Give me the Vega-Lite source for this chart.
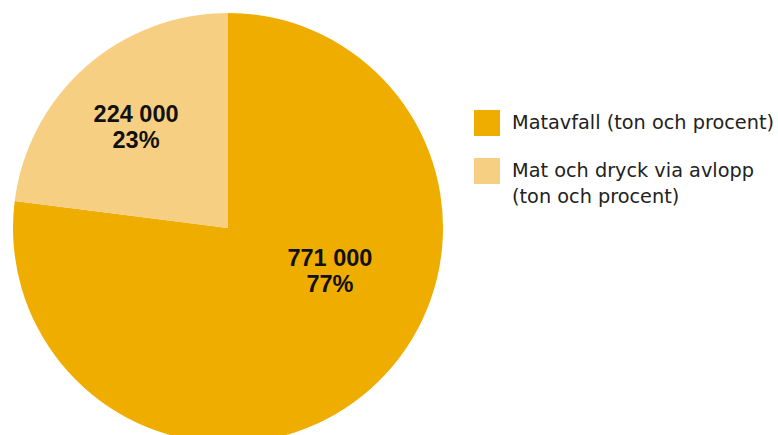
{
  "$schema": "https://vega.github.io/schema/vega-lite/v6.json",
  "width": 456,
  "height": 456,
  "autosize": {"type": "none"},
  "padding": {"left": 0, "top": 0, "right": 322, "bottom": -21},
  "background": "white",
  "config": {"view": {"stroke": null}, "style": {"guide-label": {"lineHeight": 26}}},
  "data": {
    "values": [
      {"category": "Matavfall (ton och procent)", "pct": 77, "label": "771 000\n77%"},
      {"category": "Mat och dryck via avlopp (ton och procent)", "pct": 23, "label": "224 000\n23%"}
    ]
  },
  "encoding": {
    "theta": {"field": "pct", "type": "quantitative", "stack": true},
    "order": {"field": "pct", "type": "quantitative", "sort": "descending"}
  },
  "layer": [
    {
      "mark": {"type": "arc", "outerRadius": 215, "stroke": null},
      "encoding": {
        "color": {
          "field": "category",
          "type": "nominal",
          "sort": ["Matavfall (ton och procent)", "Mat och dryck via avlopp (ton och procent)"],
          "scale": {
            "domain": ["Matavfall (ton och procent)", "Mat och dryck via avlopp (ton och procent)"],
            "range": ["#EFAD00", "#F6CF82"]
          },
          "legend": {
            "title": null,
            "orient": "none",
            "legendX": 474,
            "legendY": 110,
            "symbolType": "square",
            "symbolSize": 676,
            "symbolStrokeWidth": 0,
            "symbolOpacity": 1,
            "labelFont": "DejaVu Sans",
            "labelFontSize": 19.3,
            "labelColor": "#222222",
            "labelLimit": 400,
            "labelOffset": 12,
            "rowPadding": 22,
            "labelExpr": "datum.label == 'Mat och dryck via avlopp (ton och procent)' ? ['Mat och dryck via avlopp', '(ton och procent)'] : datum.label",
            "labelBaseline": "middle"
          }
        }
      }
    },
    {
      "mark": {"type": "text", "radius": 136, "dx": -2, "dy": -11, "font": "Liberation Sans", "fontWeight": "bold", "fontSize": 23.5, "lineBreak": "\n", "lineHeight": 26, "color": "#111111", "align": "center", "baseline": "middle"},
      "encoding": {
        "text": {"condition": {"test": "datum.pct < 50", "field": "label"}, "value": ""}
      }
    },
    {
      "mark": {"type": "text", "radius": 136, "dx": 12, "dy": -71, "font": "Liberation Sans", "fontWeight": "bold", "fontSize": 23.5, "lineBreak": "\n", "lineHeight": 26, "color": "#111111", "align": "center", "baseline": "middle"},
      "encoding": {
        "text": {"condition": {"test": "datum.pct >= 50", "field": "label"}, "value": ""}
      }
    }
  ]
}
